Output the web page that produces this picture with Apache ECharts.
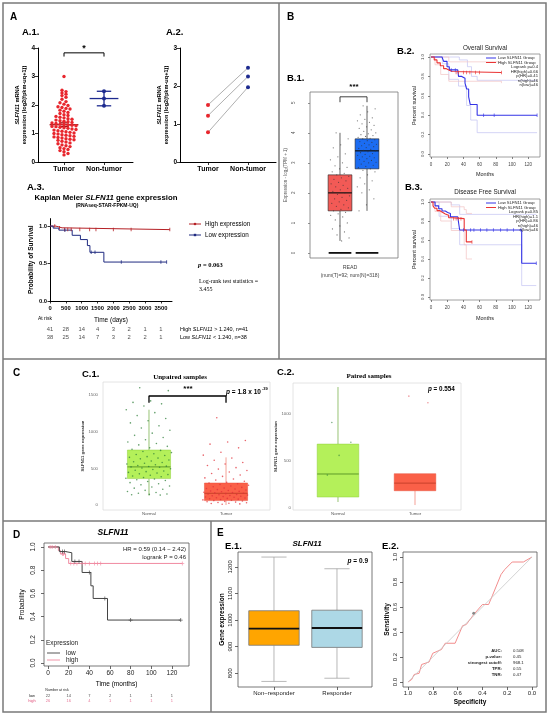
<!DOCTYPE html>
<html>
<head>
<meta charset="utf-8">
<script src="https://cdn.jsdelivr.net/npm/echarts@6/dist/echarts.min.js"></script>
<style>
html, body { margin: 0; padding: 0; background: #fff; }
#fig { width: 550px; height: 714px; }
</style>
</head>
<body>
<div id="fig"></div>
<script>
var SANS = "'Liberation Sans', Arial, sans-serif";
var SERIF = "'Liberation Serif', 'Times New Roman', serif";

// ---------- A.1 / A.2 ----------
var a1Groups = ['Tumor', 'Non-tumor'];
var a1Tumor = [3.00, 2.52, 2.47, 2.42, 2.38, 2.33, 2.27, 2.20, 2.12, 2.08,
  2.03, 1.98, 1.94, 1.91, 1.88, 1.86, 1.82, 1.78, 1.74, 1.70,
  1.66, 1.63, 1.60, 1.57, 1.55, 1.52, 1.50, 1.47, 1.45, 1.43,
  1.41, 1.39, 1.37, 1.35, 1.33, 1.32, 1.30, 1.29, 1.27, 1.25,
  1.24, 1.22, 1.20, 1.18, 1.16, 1.14, 1.12, 1.10, 1.08, 1.06,
  1.04, 1.02, 1.00, 0.98, 0.96, 0.94, 0.92, 0.90, 0.88, 0.86,
  0.84, 0.82, 0.80, 0.78, 0.76, 0.73, 0.70, 0.67, 0.64, 0.60,
  0.57, 0.54, 0.50, 0.47, 0.44, 0.40, 0.36, 0.30, 0.25];
var a1NonTumor = [2.48, 2.23, 1.97];
var a2Tumor = [1.50, 1.22, 0.78];
var a2NonTumor = [2.48, 2.25, 1.97];

// ---------- A.3 Kaplan Meier ----------
var a3High = [[0, 1], [180, 0.977], [380, 0.953], [3780, 0.953]];
var a3Low = [[0, 1], [100, 0.973], [280, 0.946], [700, 0.877], [960, 0.82], [1180, 0.74], [1260, 0.65], [1700, 0.52], [3680, 0.52]];
var a3HighCensor = [150, 300, 460, 560, 670, 940, 1250, 1450, 2000, 2560, 3780];
var a3LowCensor = [470, 1300, 1420, 2250, 3500, 3680];
var a3RiskTimes = [0, 500, 1000, 1500, 2000, 2500, 3000, 3500];
var a3RiskHigh = [41, 28, 14, 4, 3, 2, 1, 1];
var a3RiskLow = [38, 25, 14, 7, 3, 2, 2, 1];

// ---------- B.1 ----------
var b1Box = [[0.4, 1.4, 2.0, 2.6, 4.0], [1.4, 2.8, 3.4, 3.8, 4.9]];
var b1PointsT = [4.0, 3.8, 3.6, 3.5, 3.3, 3.2, 3.1, 3.0, 2.9, 2.85, 2.8, 2.7, 2.65, 2.6, 2.55, 2.5, 2.45, 2.4, 2.35, 2.3,
  2.25, 2.2, 2.15, 2.1, 2.05, 2.0, 1.95, 1.9, 1.85, 1.8, 1.75, 1.7, 1.65, 1.6, 1.55, 1.5, 1.45, 1.4, 1.35, 1.3,
  1.25, 1.2, 1.1, 1.0, 0.9, 0.8, 0.7, 0.6, 0.5, 0.4];
var b1PointsN = [4.9, 4.8, 4.7, 4.6, 4.5, 4.45, 4.4, 4.35, 4.3, 4.25, 4.2, 4.15, 4.1, 4.05, 4.0, 3.97, 3.94, 3.91, 3.88, 3.85,
  3.82, 3.8, 3.77, 3.74, 3.71, 3.68, 3.65, 3.62, 3.6, 3.57, 3.54, 3.51, 3.48, 3.45, 3.42, 3.4, 3.37, 3.34, 3.31, 3.28,
  3.25, 3.22, 3.2, 3.17, 3.14, 3.11, 3.08, 3.05, 3.02, 3.0, 2.96, 2.92, 2.88, 2.84, 2.8, 2.75, 2.7, 2.6, 2.5, 2.4,
  2.3, 2.2, 2.1, 2.0, 1.8, 1.6, 1.4];

// ---------- B.2 / B.3 (GEPIA) ----------
var monthTicks = [0, 20, 40, 60, 80, 100, 120];
var survTicks = [0, 0.2, 0.4, 0.6, 0.8, 1.0];
var b2Low = [[0, 1], [13.6, 0.98], [15.6, 0.955], [19.8, 0.9], [22.6, 0.867], [33, 0.85], [34, 0.8], [38, 0.78], [42, 0.73], [44, 0.67], [46.5, 0.59], [48.5, 0.51], [57, 0.4], [131, 0.4]];
var b2High = [[0, 1], [4, 0.97], [7.4, 0.94], [11.5, 0.91], [15.6, 0.88], [19, 0.867], [22, 0.85], [26, 0.84], [87, 0.84]];
var b2LowUpper = [[0, 1], [20, 1], [35, 0.97], [45, 0.9], [50, 0.8], [57, 0.76], [131, 0.76]];
var b2LowLower = [[0, 1], [14, 0.93], [22, 0.77], [34, 0.7], [44, 0.5], [49, 0.35], [57, 0.22], [131, 0.22]];
var b2HighUpper = [[0, 1], [10, 1], [22, 0.95], [87, 0.95]];
var b2HighLower = [[0, 1], [5, 0.92], [12, 0.82], [22, 0.75], [87, 0.73]];
var b2LowCensor = [25, 30, 65, 78, 131];
var b2HighCensor = [31, 34, 40, 44, 48, 55, 60, 87];
var b2Stats = ['Logrank p=0.4', 'HR(high)=0.66', 'p(HR)=0.41', 'n(high)=46', 'n(low)=46'];

var b3Low = [[0, 1], [5, 0.96], [9.5, 0.93], [13.6, 0.905], [17.7, 0.89], [20.6, 0.88], [24, 0.845], [33, 0.835], [35.4, 0.705], [112, 0.355], [130, 0.355]];
var b3High = [[0, 1], [2.5, 0.96], [4.5, 0.935], [7.4, 0.91], [10.7, 0.895], [13.6, 0.875], [17.7, 0.86], [21.8, 0.835], [26, 0.825], [41, 0.705], [43.6, 0.58], [50.6, 0.58]];
var b3LowUpper = [[0, 1], [10, 1], [25, 0.97], [35.4, 0.87], [112, 0.87], [130, 0.87]];
var b3LowLower = [[0, 1], [10, 0.85], [25, 0.72], [35.4, 0.55], [112, 0.12], [130, 0.12]];
var b3HighUpper = [[0, 1], [5, 1], [25, 0.95], [41, 0.92], [43.6, 0.88], [50.6, 0.88]];
var b3HighLower = [[0, 1], [5, 0.9], [12, 0.8], [25, 0.7], [41, 0.55], [43.6, 0.4], [50.6, 0.4]];
var b3LowCensor = [40, 49, 53, 61, 69, 77, 86, 94, 102, 111, 130];
var b3HighCensor = [28, 31, 34, 37, 50.6];
var b3Stats = ['Logrank p=0.85', 'HR(high)=1.1', 'p(HR)=0.86', 'n(high)=46', 'n(low)=46'];

// ---------- C.1 / C.2 ----------
var cGroups = ['Normal', 'Tumor'];
var c1Box = [[130, 360, 520, 750, 1300], [0, 60, 160, 300, 650]];
var c1Normal = [1600, 1560, 1420, 1400, 1380, 1350, 1300, 1260, 1220, 1180, 1150, 1120, 1080, 1050, 1020, 980, 950, 920, 890, 860,
  840, 820, 800, 780, 760, 745, 730, 715, 700, 690, 675, 660, 650, 640, 630, 615, 600, 590, 580, 570,
  560, 550, 540, 530, 525, 520, 515, 505, 495, 485, 475, 465, 455, 445, 435, 425, 415, 405, 395, 385,
  375, 365, 355, 345, 335, 320, 305, 290, 275, 260, 245, 230, 215, 200, 185, 170, 160, 150, 145, 140, 135];
var c1Tumor = [1190, 880, 860, 830, 780, 720, 680, 640, 610, 580, 560, 540, 510, 490, 470, 450, 430, 410, 390, 370,
  355, 340, 325, 310, 300, 290, 280, 270, 260, 250, 240, 232, 225, 218, 210, 204, 198, 192, 186, 180,
  175, 170, 165, 160, 155, 150, 145, 140, 135, 130, 125, 120, 115, 110, 105, 100, 95, 90, 85, 80,
  75, 70, 65, 60, 55, 50, 45, 40, 35, 30, 25, 20, 15, 10];
var c2Box = [[64, 117, 362, 680, 1287], [32, 184, 265, 365, 365]];
var c2Normal = [910, 700, 560, 350];
var c2Tumor = [1190, 1120];

// ---------- D ----------
var dLow = [[0, 1], [11, 0.96], [17, 0.95], [23, 0.875], [33, 0.78], [41.5, 0.665], [43.7, 0.556], [57.6, 0.37], [128.5, 0.37]];
var dHigh = [[0, 1], [10, 0.97], [12, 0.94], [17, 0.9], [20, 0.858], [130, 0.858]];
var dLowCensor = [14, 16, 26, 30, 40, 55, 80, 128.5];
var dHighCensor = [2, 4, 7, 14, 15, 22, 25, 28, 33, 36, 40, 45, 48, 51, 130];
var dRiskTimes = [0, 20, 40, 60, 80, 100, 120];
var dRiskLow = [22, 14, 7, 2, 1, 1, 1];
var dRiskHigh = [26, 16, 4, 1, 1, 1, 1];

// ---------- E ----------
var eGroups = ['Non\u2212responder', 'Responder'];
var e1Box = [[769, 905, 968, 1035, 1237], [781, 897, 970, 1037, 1193]];
var e2Roc = [[1, 0], [0.97, 0.02], [0.95, 0.06], [0.91, 0.07], [0.89, 0.14], [0.83, 0.16], [0.8, 0.23], [0.73, 0.26],
  [0.7, 0.31], [0.62, 0.31], [0.56, 0.45], [0.53, 0.46], [0.47, 0.54], [0.4, 0.62], [0.35, 0.62], [0.32, 0.69],
  [0.25, 0.86], [0.22, 0.9], [0.16, 0.96], [0.07, 0.96], [0, 1]];
var e2Cut = [0.47, 0.55];
var e2StatLabels = ['AUC:', 'p-value:', 'strongest cutoff:', 'TPR:', 'TNR:'];
var e2StatValues = ['0.508', '0.45', '968.1', '0.55', '0.47'];

// ---------- helpers ----------
function survAt(curve, t) {
  var s = curve[0][1];
  curve.forEach(function (p) { if (p[0] <= t) s = p[1]; });
  return s;
}
function jitter(vals, x0, spread) {
  return vals.map(function (v, i) {
    var f = (i * 0.6180339887 + 0.3) % 1;
    return [x0 + (f - 0.5) * 2 * spread, v];
  });
}
function beeswarm(vals, x0, binH, stepX) {
  var bins = {}, out = [];
  vals.forEach(function (v) { var b = Math.round(v / binH); (bins[b] = bins[b] || []).push(v); });
  Object.keys(bins).forEach(function (b) {
    var arr = bins[b], n = arr.length;
    arr.forEach(function (v, j) { out.push([x0 + (j - (n - 1) / 2) * stepX, v]); });
  });
  return out;
}
function stats(vals) {
  var n = vals.length, m = vals.reduce(function (a, b) { return a + b; }, 0) / n;
  var sd = Math.sqrt(vals.reduce(function (a, b) { return a + (b - m) * (b - m); }, 0) / (n - 1));
  return {m: m, sd: sd, sem: sd / Math.sqrt(n)};
}

function vAxis(gi, min, max, o) {
  o = o || {};
  var ax = {
    type: 'value', gridIndex: gi, min: min, max: max, show: o.show !== false, inverse: !!o.inverse,
    splitLine: {show: false},
    axisLine: {show: !!o.line, onZero: false, lineStyle: {color: '#000', width: 1}},
    axisTick: {show: o.ticks !== false, length: o.tickLen || 2.5, lineStyle: {color: o.tickColor || '#333', width: 0.8}},
    axisLabel: {show: o.labels !== false, fontSize: o.fs || 6, color: o.color || '#000',
      fontWeight: o.bold ? 'bold' : 'normal', fontFamily: SANS, margin: o.margin || 3, rotate: o.rotate || 0,
      formatter: o.fmt || function (v) { return String(v); }}
  };
  if (o.vals) { ax.axisTick.customValues = o.vals; ax.axisLabel.customValues = o.vals; }
  else if (o.interval) { ax.interval = o.interval; }
  if (o.name) {
    ax.name = o.name; ax.nameLocation = 'middle'; ax.nameGap = o.nameGap;
    ax.nameTextStyle = {fontSize: o.nfs || 7, fontWeight: o.nbold ? 'bold' : 'normal', color: o.ncolor || '#000',
      fontFamily: SANS, lineHeight: o.nlh || null, rich: o.nrich || null};
  }
  return ax;
}

function boxSeries(gi, boxes, st) {
  return {
    type: 'custom', xAxisIndex: gi, yAxisIndex: gi, z: st.z || 2, silent: true,
    data: boxes.map(function (b, i) { return [i].concat(b); }),
    encode: {x: 0, y: [1, 2, 3, 4, 5]},
    renderItem: function (params, api) {
      var x = api.value(0), i = params.dataIndex;
      var hw = api.size([st.half, 0])[0];
      var p = [1, 2, 3, 4, 5].map(function (k) { return api.coord([x, api.value(k)]); });
      var cx = p[0][0];
      var wc = Array.isArray(st.whisker) ? st.whisker[i] : st.whisker;
      var ws = {stroke: wc, lineWidth: st.wWidth || 0.7};
      var ch = [
        {type: 'line', shape: {x1: cx, y1: p[4][1], x2: cx, y2: p[3][1]}, style: ws},
        {type: 'line', shape: {x1: cx, y1: p[1][1], x2: cx, y2: p[0][1]}, style: ws}
      ];
      if (st.cap) {
        var hc = api.size([st.cap, 0])[0];
        ch.push({type: 'line', shape: {x1: cx - hc, y1: p[4][1], x2: cx + hc, y2: p[4][1]}, style: ws});
        ch.push({type: 'line', shape: {x1: cx - hc, y1: p[0][1], x2: cx + hc, y2: p[0][1]}, style: ws});
      }
      var sc = Array.isArray(st.stroke) ? st.stroke[i] : st.stroke;
      ch.push({type: 'rect', shape: {x: cx - hw, y: p[3][1], width: 2 * hw, height: p[1][1] - p[3][1]},
        style: {fill: st.fill[i], stroke: sc, lineWidth: st.sWidth || 0.7}});
      var mc = Array.isArray(st.median) ? st.median[i] : st.median;
      ch.push({type: 'line', shape: {x1: cx - hw, y1: p[2][1], x2: cx + hw, y2: p[2][1]},
        style: {stroke: mc, lineWidth: st.mWidth || 1.5}});
      return {type: 'group', children: ch};
    }
  };
}

function errSeries(gi, data, st) {
  return {
    type: 'custom', xAxisIndex: gi, yAxisIndex: gi, z: 4, silent: true, data: data, encode: {x: 0, y: [1, 2, 3]},
    renderItem: function (params, api) {
      var x = api.value(0);
      var m = api.coord([x, api.value(1)]), lo = api.coord([x, api.value(2)]), hi = api.coord([x, api.value(3)]);
      var hm = api.size([st.mean, 0])[0], hc = api.size([st.cap, 0])[0];
      var s = {stroke: st.color, lineWidth: 1.3};
      return {type: 'group', children: [
        {type: 'line', shape: {x1: m[0] - hm, y1: m[1], x2: m[0] + hm, y2: m[1]}, style: s},
        {type: 'line', shape: {x1: m[0], y1: lo[1], x2: m[0], y2: hi[1]}, style: s},
        {type: 'line', shape: {x1: m[0] - hc, y1: lo[1], x2: m[0] + hc, y2: lo[1]}, style: s},
        {type: 'line', shape: {x1: m[0] - hc, y1: hi[1], x2: m[0] + hc, y2: hi[1]}, style: s}
      ]};
    }
  };
}

function km(gi, curve, color, w, z) {
  return {type: 'line', xAxisIndex: gi, yAxisIndex: gi, step: 'end', data: curve, symbol: 'none', silent: true,
    lineStyle: {color: color, width: w || 1}, z: z || 3};
}
function censor(gi, curve, times, color, size, symbol) {
  return {type: 'scatter', xAxisIndex: gi, yAxisIndex: gi, silent: true, z: 4,
    data: times.map(function (t) { return [t, survAt(curve, t)]; }),
    symbol: symbol || 'rect', symbolSize: size, itemStyle: {color: color}};
}
var PLUS = 'path://M4,0h2v4h4v2h-4v4h-2v-4h-4v-2h4z';
function riskSeries(gi, times, counts, row, color, size) {
  return {type: 'scatter', xAxisIndex: gi, yAxisIndex: gi, silent: true, symbolSize: 1,
    itemStyle: {color: 'rgba(0,0,0,0)'},
    data: times.map(function (t, i) { return [t, row, counts[i]]; }),
    label: {show: true, position: 'inside', formatter: function (p) { return p.value[2]; },
      fontSize: size, color: color, fontFamily: SANS}};
}
function seg(gi, pts, color, w) {
  return {type: 'line', xAxisIndex: gi, yAxisIndex: gi, data: pts, symbol: 'none', silent: true,
    lineStyle: {color: color, width: w || 1}, z: 5};
}
function pts(gi, data, color, size, op) {
  return {type: 'scatter', xAxisIndex: gi, yAxisIndex: gi, data: data, symbolSize: size, silent: true, z: 4,
    itemStyle: {color: color, opacity: op == null ? 1 : op}};
}

function T(x, y, text, o) {
  o = o || {};
  return {type: 'text', x: x, y: y, rotation: o.rot || 0, z: 100, silent: true,
    style: {text: text, fill: o.color || '#000', fontSize: o.size || 7, fontWeight: o.bold ? 'bold' : 'normal',
      fontStyle: o.italic ? 'italic' : 'normal', fontFamily: o.font || SANS,
      align: o.align || 'left', verticalAlign: o.va || 'middle', rich: o.rich || null}};
}
function L(x1, y1, x2, y2, color, w) {
  return {type: 'line', z: 100, silent: true, shape: {x1: x1, y1: y1, x2: x2, y2: y2}, style: {stroke: color, lineWidth: w || 1}};
}
function richI(size, bold, font) {
  return {i: {fontStyle: 'italic', fontWeight: bold ? 'bold' : 'normal', fontSize: size, fontFamily: font || SANS}};
}

// ---------- grids ----------
function G(l, t, w, h, border) {
  var g = {left: l, top: t, width: w, height: h, containLabel: false, outerBoundsMode: 'none', show: !!border};
  if (border) { g.borderColor = border; g.borderWidth = 0.8; g.backgroundColor = 'rgba(0,0,0,0)'; }
  return g;
}
var grids = [
  G(38, 48, 95, 114),          // 0 A.1
  G(180, 48, 96, 114),         // 1 A.2
  G(50, 218.6, 122, 82.4),     // 2 A.3
  G(50, 325, 122, 16),         // 3 A.3 risk
  G(310, 92, 88, 166, '#777'), // 4 B.1
  G(430, 54, 110, 103, '#888'),// 5 B.2
  G(430, 199, 110, 101, '#888'),// 6 B.3
  G(103, 382, 167, 128, '#ddd'),// 7 C.1
  G(293, 383, 168, 127, '#ddd'),// 8 C.2
  G(44, 543, 145, 123, '#555'),// 9 D
  G(44, 693.5, 145, 10),       // 10 D risk
  G(238, 552, 134, 135, '#555'),// 11 E.1
  G(403, 552, 134, 135, '#555') // 12 E.2
];

var a1Name = '{i|SLFN11} mRNA\nexpression (log2(fpkm-uq+1))';
var gpLab = {line: true, fs: 7, bold: true, margin: 4, tickLen: 3, tickColor: '#000'};
function ext(a, b) { var o = {}; for (var k in a) o[k] = a[k]; for (var k2 in b) o[k2] = b[k2]; return o; }
var catA = function (v) { return a1Groups[Math.round(v)] || ''; };
var catC = function (v) { return cGroups[Math.round(v)] || ''; };
var catE = function (v) { return eGroups[Math.round(v)] || ''; };
var fmt1 = function (v) { return v.toFixed(1); };

var xAxes = [
  vAxis(0, -0.65, 1.725, ext(gpLab, {vals: [0, 1], fmt: catA})),
  vAxis(1, -0.7, 1.7, ext(gpLab, {vals: [0, 1], fmt: catA})),
  vAxis(2, 0, 3850, {line: true, vals: a3RiskTimes, fs: 5.8, bold: true, margin: 4, tickLen: 2.5, tickColor: '#000',
    name: 'Time (days)', nameGap: 16, nfs: 6.5}),
  vAxis(3, 0, 3850, {show: false}),
  vAxis(4, -1.111, 2.148, {show: false}),
  vAxis(5, -1.23, 134.6, {vals: monthTicks, fs: 4.5, color: '#444', margin: 5, tickLen: 2, tickColor: '#666',
    name: 'Months', nameGap: 14, nfs: 5.5, ncolor: '#222'}),
  vAxis(6, -1.23, 134.6, {vals: monthTicks, fs: 4.5, color: '#444', margin: 5, tickLen: 2, tickColor: '#666',
    name: 'Months', nameGap: 15, nfs: 5.5, ncolor: '#222'}),
  vAxis(7, -0.597, 1.571, {vals: [0, 1], fmt: catC, fs: 4.3, color: '#555', margin: 2, ticks: false}),
  vAxis(8, -0.584, 1.597, {vals: [0, 1], fmt: catC, fs: 4.3, color: '#555', margin: 2, ticks: false}),
  vAxis(9, -3.9, 136.5, {vals: dRiskTimes, fs: 6.5, color: '#222', margin: 4, tickLen: 3, tickColor: '#444',
    name: 'Time (months)', nameGap: 15, nfs: 6.5}),
  vAxis(10, -3.9, 136.5, {show: false}),
  vAxis(11, -0.571, 1.556, {vals: [0, 1], fmt: catE, fs: 6, color: '#222', margin: 3, tickLen: 3, tickColor: '#444'}),
  vAxis(12, -0.04, 1.04, {inverse: true, vals: survTicks, fmt: fmt1, fs: 6, color: '#222', margin: 3, tickLen: 3,
    tickColor: '#444', name: 'Specificity', nameGap: 12, nfs: 6.5, nbold: true})
];

var yAxes = [
  vAxis(0, 0, 4, {line: true, interval: 1, fs: 6.5, bold: true, margin: 3, tickLen: 3, tickColor: '#000',
    name: a1Name, nameGap: 10, nfs: 5.6, nbold: true, nlh: 6.5, nrich: richI(5.6, true)}),
  vAxis(1, 0, 3, {line: true, interval: 1, fs: 6.5, bold: true, margin: 3, tickLen: 3, tickColor: '#000',
    name: a1Name, nameGap: 10, nfs: 5.6, nbold: true, nlh: 6.5, nrich: richI(5.6, true)}),
  vAxis(2, 0, 1.1, {line: true, vals: [0, 0.5, 1], fmt: fmt1, fs: 5.8, bold: true, margin: 3, tickLen: 2.5,
    tickColor: '#000', name: 'Probability of Survival', nameGap: 15, nfs: 6.5, nbold: true}),
  {type: 'category', gridIndex: 3, data: ['high', 'low'], inverse: true, show: false},
  vAxis(4, -0.17, 5.36, {vals: [0, 1, 2, 3, 4, 5], fs: 4.5, color: '#555', rotate: 90, margin: 14, tickLen: 2,
    tickColor: '#777', name: 'Expression - log\u2082(TPM + 1)', nameGap: 22, nfs: 4.5, ncolor: '#555'}),
  vAxis(5, -0.031, 1.031, {vals: survTicks, fmt: fmt1, fs: 4.3, color: '#444', rotate: 90, margin: 5, tickLen: 2,
    tickColor: '#666', name: 'Percent survival', nameGap: 13, nfs: 5.5, ncolor: '#222'}),
  vAxis(6, -0.032, 1.032, {vals: survTicks, fmt: fmt1, fs: 4.3, color: '#444', rotate: 90, margin: 5, tickLen: 2,
    tickColor: '#666', name: 'Percent survival', nameGap: 13, nfs: 5.5, ncolor: '#222'}),
  vAxis(7, -68, 1678, {vals: [0, 500, 1000, 1500], fs: 4.3, color: '#666', margin: 5, ticks: false,
    name: 'SLFN11 gene expression', nameGap: 14, nfs: 4.3, nbold: true, ncolor: '#333'}),
  vAxis(8, -21, 1330, {vals: [0, 500, 1000], fs: 4.3, color: '#666', margin: 2, ticks: false,
    name: 'SLFN11 gene expression', nameGap: 12, nfs: 4.3, nbold: true, ncolor: '#333'}),
  vAxis(9, -0.026, 1.034, {vals: survTicks, fmt: fmt1, fs: 6.5, color: '#222', rotate: 90, margin: 7, tickLen: 3,
    tickColor: '#444', name: 'Probability', nameGap: 18, nfs: 6.5}),
  {type: 'category', gridIndex: 10, data: ['low', 'high'], inverse: true, show: false},
  vAxis(11, 748, 1256, {vals: [800, 900, 1000, 1100, 1200], fs: 6, color: '#222', rotate: 90, margin: 5, tickLen: 3,
    tickColor: '#444', name: 'Gene expression', nameGap: 12, nfs: 6.5, nbold: true}),
  vAxis(12, -0.04, 1.04, {vals: survTicks, fmt: fmt1, fs: 6, color: '#222', rotate: 90, margin: 5, tickLen: 3,
    tickColor: '#444', name: 'Sensitivity', nameGap: 12, nfs: 6.5, nbold: true})
];

// ---------- series ----------
var RED = '#e8262d', NAVY = '#1d2a8f';
var series = [];

// A.1
var tS = stats(a1Tumor), nS = stats(a1NonTumor);
series.push(pts(0, beeswarm(a1Tumor, 0, 0.12, 0.1), RED, 3.4));
series.push(pts(0, a1NonTumor.map(function (v) { return [1, v]; }), NAVY, 4));
series.push(errSeries(0, [[0, tS.m, tS.m - tS.sem, tS.m + tS.sem]], {mean: 0.36, cap: 0.12, color: '#9e1419'}));
series.push(errSeries(0, [[1, nS.m, nS.m - nS.sd, nS.m + nS.sd]], {mean: 0.36, cap: 0.18, color: NAVY}));
series.push(seg(0, [[0, 3.7], [0, 3.83], [1, 3.83], [1, 3.7]], '#000', 1));

// A.2
a2Tumor.forEach(function (t, i) {
  series.push({type: 'line', xAxisIndex: 1, yAxisIndex: 1, silent: true, symbol: 'circle', symbolSize: 4,
    data: [{value: [0, t], itemStyle: {color: RED}}, {value: [1, a2NonTumor[i]], itemStyle: {color: NAVY}}],
    lineStyle: {color: '#9a9a9a', width: 0.8}});
});

// A.3
series.push(km(2, a3High, '#b52025', 1));
series.push(km(2, a3Low, '#1f2a80', 1));
series.push(censor(2, a3High, a3HighCensor, '#b52025', [1, 3.5]));
series.push(censor(2, a3Low, a3LowCensor, '#1f2a80', [1, 3.5]));
series.push(riskSeries(3, a3RiskTimes, a3RiskHigh, 'high', '#222', 5.8));
series.push(riskSeries(3, a3RiskTimes, a3RiskLow, 'low', '#222', 5.8));

// B.1
series.push(boxSeries(4, b1Box, {half: 0.44, fill: ['#f25a56', '#1b6cf2'], stroke: '#222', whisker: '#222',
  median: '#111', mWidth: 1.2, sWidth: 0.6}));
series.push(pts(4, jitter(b1PointsT, 0, 0.36), '#333', 1.2, 0.7));
series.push(pts(4, jitter(b1PointsN, 1, 0.36), '#333', 1.2, 0.7));
series.push(seg(4, [[-0.42, 0], [0.42, 0]], '#111', 1.8));
series.push(seg(4, [[0.58, 0], [1.42, 0]], '#111', 1.8));
series.push(seg(4, [[0, 5.02], [0, 5.2], [1, 5.2], [1, 5.02]], '#111', 0.8));

// B.2
series.push(km(5, b2LowUpper, '#c3c3f2', 0.7, 2));
series.push(km(5, b2LowLower, '#c3c3f2', 0.7, 2));
series.push(km(5, b2HighUpper, '#f2c3c3', 0.7, 2));
series.push(km(5, b2HighLower, '#f2c3c3', 0.7, 2));
series.push(km(5, b2Low, '#3434e6', 1.1));
series.push(km(5, b2High, '#ea3434', 1.1));
series.push(censor(5, b2Low, b2LowCensor, '#3434e6', [0.8, 3.5]));
series.push(censor(5, b2High, b2HighCensor, '#ea3434', [0.8, 3.5]));

// B.3
series.push(km(6, b3LowUpper, '#c3c3f2', 0.7, 2));
series.push(km(6, b3LowLower, '#c3c3f2', 0.7, 2));
series.push(km(6, b3HighUpper, '#f2c3c3', 0.7, 2));
series.push(km(6, b3HighLower, '#f2c3c3', 0.7, 2));
series.push(km(6, b3Low, '#3434e6', 1.1));
series.push(km(6, b3High, '#ea3434', 1.1));
series.push(censor(6, b3Low, b3LowCensor, '#3434e6', [0.8, 3.5]));
series.push(censor(6, b3High, b3HighCensor, '#ea3434', [0.8, 3.5]));

// C.1
series.push(boxSeries(7, c1Box, {half: 0.28, fill: ['#b4f05a', '#fa6048'], stroke: ['#8fcf3a', '#e8503a'],
  whisker: ['#6aa83a', '#f07a6a'], median: ['#5f9a2a', '#c8402a'], mWidth: 1, sWidth: 0.5}));
series.push(pts(7, jitter(c1Normal, 0, 0.3), '#2f7f3a', 1.6, 0.75));
series.push(pts(7, jitter(c1Tumor, 1, 0.3), '#e0303a', 1.6, 0.75));
series.push(seg(7, [[0, 1395], [0, 1487], [1, 1487], [1, 1395]], '#000', 1.3));

// C.2
series.push(boxSeries(8, c2Box, {half: 0.27, fill: ['#b4f05a', '#fa6048'], stroke: ['#8fcf3a', '#e8503a'],
  whisker: ['#6aa83a', '#f07a6a'], median: ['#5f9a2a', '#c8402a'], mWidth: 1, sWidth: 0.5}));
series.push(pts(8, jitter(c2Normal, 0, 0.2), '#2f7f3a', 1.6, 0.6));
series.push(pts(8, jitter(c2Tumor, 1, 0.2), '#e0303a', 1.6, 0.5));

// D
series.push(km(9, dHigh, '#f08aa0', 1));
series.push(km(9, dLow, '#444', 1));
series.push(censor(9, dHigh, dHighCensor, '#f08aa0', 4, PLUS));
series.push(censor(9, dLow, dLowCensor, '#444', 4, PLUS));
series.push(riskSeries(10, dRiskTimes, dRiskLow, 'low', '#222', 4));
series.push(riskSeries(10, dRiskTimes, dRiskHigh, 'high', '#e0507a', 4));

// E.1
series.push(boxSeries(11, e1Box, {half: 0.4, cap: 0.2, fill: ['#ffa500', '#add8e6'], stroke: '#777',
  whisker: '#999', median: '#111', mWidth: 1.8, sWidth: 0.8}));

// E.2
series.push(seg(12, [[1, 0], [0, 1]], '#c8c8c8', 0.8));
series.push({type: 'line', xAxisIndex: 12, yAxisIndex: 12, data: e2Roc, symbol: 'none', silent: true,
  lineStyle: {color: '#f08080', width: 0.9}, z: 4});
series.push(pts(12, [e2Cut], '#888', 3, 1));

// ---------- text & frames ----------
var FR = '#7a7a7a';
var gfx = [
  {type: 'rect', z: 90, silent: true, shape: {x: 3, y: 3, width: 543, height: 709}, style: {fill: 'none', stroke: FR, lineWidth: 1.5}},
  L(279, 3, 279, 359, FR, 1.5), L(3, 359, 546, 359, FR, 1.5), L(3, 521, 546, 521, FR, 1.5), L(211, 521, 211, 712, FR, 1.5),

  T(10, 17, 'A', {size: 10, bold: true}),
  T(22, 32, 'A.1.', {size: 9.5, bold: true}),
  T(166, 32, 'A.2.', {size: 9.5, bold: true}),
  T(27, 187, 'A.3.', {size: 9.5, bold: true}),
  T(84, 49, '*', {size: 9, bold: true, align: 'center'}),
  T(106, 198, 'Kaplan Meier {i|SLFN11} gene expression', {size: 7.8, bold: true, align: 'center', rich: richI(7.8, true)}),
  T(107, 206, '(RNAseq-STAR-FPKM-UQ)', {size: 5, bold: true, align: 'center'}),
  L(189, 224, 201, 224, '#b52025', 1), {type: 'circle', z: 100, shape: {cx: 195, cy: 224, r: 1.3}, style: {fill: '#b52025'}},
  T(205, 224, 'High expression', {size: 6.3}),
  L(189, 235, 201, 235, '#1f2a80', 1), {type: 'rect', z: 100, shape: {x: 193.8, y: 233.8, width: 2.4, height: 2.4}, style: {fill: '#1f2a80'}},
  T(205, 235, 'Low expression', {size: 6.3}),
  T(198, 265, '{i|p} = 0.063', {size: 6.5, bold: true, font: SERIF, rich: richI(6.5, true, SERIF)}),
  T(199, 281, 'Log-rank test statistics =', {size: 6, font: SERIF}),
  T(199, 289, '3.455', {size: 6, font: SERIF}),
  T(38, 319, 'At risk', {size: 5}),
  T(180, 329, 'High {i|SLFN11} > 1.240, n=41', {size: 5.5, rich: richI(5.5)}),
  T(180, 337, 'Low {i|SLFN11} < 1.240, n=38', {size: 5.5, rich: richI(5.5)}),

  T(287, 17, 'B', {size: 10, bold: true}),
  T(287, 78, 'B.1.', {size: 9.5, bold: true}),
  T(354, 87, '***', {size: 8, bold: true, align: 'center'}),
  T(350, 268, 'READ', {size: 5.3, color: '#444', align: 'center'}),
  T(350, 276, '(num(T)=92; num(N)=318)', {size: 5, color: '#444', align: 'center'}),
  T(397, 51, 'B.2.', {size: 9.5, bold: true}),
  T(485, 48, 'Overall Survival', {size: 6.3, color: '#222', align: 'center'}),
  T(405, 187, 'B.3.', {size: 9.5, bold: true}),
  T(485, 192, 'Disease Free Survival', {size: 6.3, color: '#222', align: 'center'}),

  T(13, 373, 'C', {size: 10, bold: true}),
  T(82, 374, 'C.1.', {size: 9.5, bold: true}),
  T(180, 377, 'Unpaired samples', {size: 7, bold: true, font: SERIF, align: 'center'}),
  T(188, 389, '***', {size: 8, bold: true, align: 'center'}),
  T(226, 392, '{i|p} = 1.8 x 10', {size: 6.5, bold: true, rich: richI(6.5, true)}),
  T(262, 389, '-39', {size: 4, bold: true}),
  T(277, 372, 'C.2.', {size: 9.5, bold: true}),
  T(369, 376, 'Paired samples', {size: 7, bold: true, font: SERIF, align: 'center'}),
  T(428, 389, '{i|p} = 0.554', {size: 6.3, bold: true, rich: richI(6.3, true)}),

  T(13, 535, 'D', {size: 10, bold: true}),
  T(113, 533, 'SLFN11', {size: 8.5, bold: true, italic: true, align: 'center'}),
  T(186, 549, 'HR = 0.59 (0.14 \u2212 2.42)', {size: 6, align: 'right', color: '#222'}),
  T(186, 557, 'logrank P = 0.46', {size: 6, align: 'right', color: '#222'}),
  T(46, 643, 'Expression', {size: 6.5, color: '#222'}),
  L(47, 653, 60, 653, '#444', 0.9), T(66, 653, 'low', {size: 6.5, color: '#222'}),
  L(47, 660, 60, 660, '#f08aa0', 0.9), T(66, 660, 'high', {size: 6.5, color: '#222'}),
  T(57, 690, 'Number at risk', {size: 3.6, color: '#222', align: 'center'}),
  T(32, 696, 'low', {size: 4, color: '#222', align: 'center'}),
  T(32, 701, 'high', {size: 4, color: '#e0507a', align: 'center'}),

  T(217, 533, 'E', {size: 10, bold: true}),
  T(225, 546, 'E.1.', {size: 9.5, bold: true}),
  T(307, 544, 'SLFN11', {size: 8, bold: true, italic: true, align: 'center'}),
  T(368, 561, '{i|p} = 0.9', {size: 6.5, bold: true, align: 'right', rich: richI(6.5, true)}),
  T(382, 546, 'E.2.', {size: 9.5, bold: true})
];
e2StatLabels.forEach(function (s, i) {
  gfx.push(T(502, 651 + i * 6, s, {size: 4.3, bold: true, align: 'right', color: '#222'}));
  gfx.push(T(513, 651 + i * 6, e2StatValues[i], {size: 4.3, color: '#222'}));
});
function gepiaLegend(y0, st) {
  var out = [L(486, y0, 496, y0, '#3434e6', 1), T(498, y0, 'Low SLFN11 Group', {size: 4.2, color: '#222'}),
    L(486, y0 + 4.5, 496, y0 + 4.5, '#ea3434', 1), T(498, y0 + 4.5, 'High SLFN11 Group', {size: 4.2, color: '#222'})];
  st.forEach(function (s, i) { out.push(T(538, y0 + 9 + i * 4.5, s, {size: 4.2, align: 'right', color: '#222'})); });
  return out;
}
gfx = gfx.concat(gepiaLegend(58, b2Stats), gepiaLegend(203, b3Stats));

var chart = echarts.init(document.getElementById('fig'));
chart.setOption({
  animation: false,
  backgroundColor: '#fff',
  textStyle: {fontFamily: SANS},
  grid: grids,
  xAxis: xAxes,
  yAxis: yAxes,
  series: series,
  graphic: gfx
});
</script>
</body>
</html>
